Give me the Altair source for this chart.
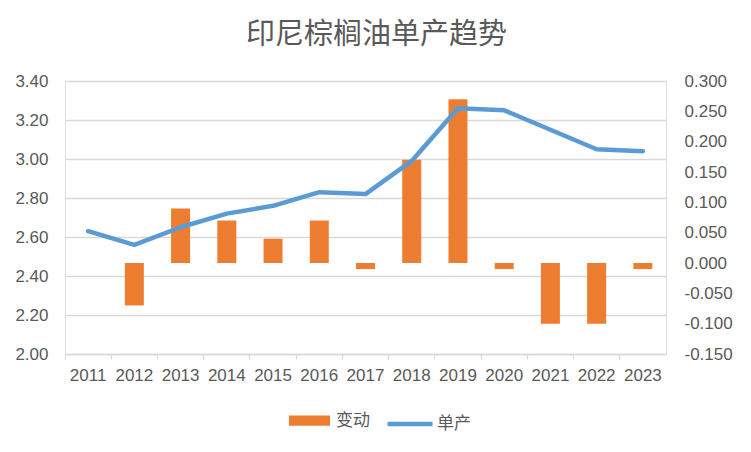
import altair as alt
import pandas as pd

years = ["2011", "2012", "2013", "2014", "2015", "2016", "2017",
         "2018", "2019", "2020", "2021", "2022", "2023"]
yield_vals = [2.63, 2.56, 2.65, 2.72, 2.76, 2.83, 2.82, 2.99, 3.26, 3.25, 3.15, 3.05, 3.04]
change_vals = [None, -0.07, 0.09, 0.07, 0.04, 0.07, -0.01, 0.17, 0.27, -0.01, -0.10, -0.10, -0.01]
left_ticks = [2.0, 2.2, 2.4, 2.6, 2.8, 3.0, 3.2, 3.4]
right_ticks = [-0.15, -0.10, -0.05, 0.0, 0.05, 0.10, 0.15, 0.20, 0.25, 0.30]

df = pd.DataFrame({"year": years, "yield": yield_vals, "change": change_vals})

GRAY = "#595959"
GRID = "#d9d9d9"
NUMFONT = "Liberation Sans"
CJK = "Noto Sans CJK SC"

x_enc = alt.X("year:N", sort=years,
              scale=alt.Scale(paddingInner=0, paddingOuter=0),
              axis=alt.Axis(title=None, labelAngle=0, labelFont=NUMFONT, labelFontSize=17,
                            labelColor=GRAY, domainColor=GRID, domainWidth=1.3,
                            tickColor=GRID, tickWidth=1.3,
                            tickSize=5, labelPadding=8, bandPosition=0, grid=False))

bars = alt.Chart(df).transform_filter("isValid(datum.change)").transform_calculate(
    series="'变动'"
).mark_bar(size=19).encode(
    x=x_enc,
    y=alt.Y("change:Q",
            scale=alt.Scale(domain=[-0.15, 0.30], nice=False, zero=False),
            axis=alt.Axis(title=None, orient="right", values=right_ticks, grid=False,
                          domain=False, ticks=False, labelPadding=18,
                          labelExpr="replace(format(datum.value, '.3f'), '\u2212', '-')",
                          labelFont=NUMFONT, labelFontSize=17, labelColor=GRAY)),
    fill=alt.Fill("series:N",
                  scale=alt.Scale(domain=["变动"], range=["#ED7D31"]),
                  legend=alt.Legend(title=None, orient="none", legendX=223, legendY=318,
                                    symbolType="M-1,-0.25H1V0.25H-1Z", symbolSize=1681,
                                    labelFont=CJK, labelFontSize=17, labelColor=GRAY,
                                    labelOffset=5, padding=0)),
)

line = alt.Chart(df).transform_calculate(
    series2="'单产'"
).mark_line(strokeWidth=4.5, strokeCap="round", strokeJoin="round").encode(
    x=x_enc,
    y=alt.Y("yield:Q",
            scale=alt.Scale(domain=[2.0, 3.4], nice=False, zero=False),
            axis=alt.Axis(title=None, orient="left", values=left_ticks, format=".2f",
                          grid=True, gridColor=GRID, gridWidth=1.3,
                          domain=False, ticks=False, labelPadding=17,
                          minExtent=57, maxExtent=57,
                          labelFont=NUMFONT, labelFontSize=17, labelColor=GRAY)),
    stroke=alt.Stroke("series2:N",
                      scale=alt.Scale(domain=["单产"], range=["#5B9BD5"]),
                      legend=alt.Legend(title=None, orient="none", legendX=320, legendY=318,
                                        symbolType="stroke", symbolSize=2025,
                                        symbolStrokeWidth=4.5,
                                        labelFont=CJK, labelFontSize=17, labelColor=GRAY,
                                        labelOffset=2, padding=0)),
)

chart = alt.layer(bars, line).resolve_scale(
    y="independent", fill="independent", stroke="independent"
).properties(
    width=601, height=273,
    padding={"left": 0, "top": 13, "right": 0, "bottom": 0},
    title=alt.TitleParams("印尼棕榈油单产趋势", font=CJK, fontSize=29, fontWeight="normal",
                          color=GRAY, anchor="middle", offset=22, dx=11),
).configure_view(stroke=None).configure(background="white")

chart.save("out.html", embed_options={"renderer": "svg", "actions": False})
